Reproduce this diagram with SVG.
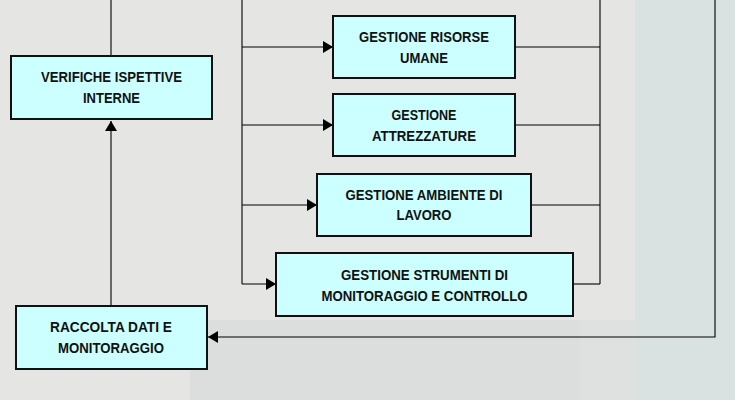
<svg xmlns="http://www.w3.org/2000/svg" width="735" height="400" viewBox="0 0 735 400">
<defs>
<style>
.box{fill:#ccffff;stroke:#111;stroke-width:2}
.t{font-family:"Liberation Sans",Arial,sans-serif;font-weight:bold;font-size:14.8px;fill:#111;text-anchor:middle}
.ln{fill:none;stroke:#000;stroke-width:1.1}
</style>
<marker id="ah" viewBox="0 0 10 12" refX="10" refY="6" markerWidth="10" markerHeight="12" markerUnits="userSpaceOnUse" orient="auto">
<path d="M0,0 L10,6 L0,12 Z" fill="#000"/>
</marker>
</defs>
<rect x="0" y="0" width="735" height="400" fill="#e5e5e3"/>
<rect x="190" y="320" width="445" height="80" fill="#dcdddd"/>
<rect x="580" y="320" width="55" height="80" fill="#dfe0e0"/>
<rect x="635" y="0" width="100" height="400" fill="#d9e1e1"/>
<g id="connectors">
<line class="ln" x1="111" y1="0" x2="111" y2="56"/>
<line class="ln" x1="111" y1="306" x2="111" y2="121" marker-end="url(#ah)"/>
<line class="ln" x1="242" y1="0" x2="242" y2="284"/>
<line class="ln" x1="242" y1="47" x2="333" y2="47" marker-end="url(#ah)"/>
<line class="ln" x1="242" y1="125" x2="333" y2="125" marker-end="url(#ah)"/>
<line class="ln" x1="242" y1="205" x2="317" y2="205" marker-end="url(#ah)"/>
<line class="ln" x1="242" y1="284" x2="276" y2="284" marker-end="url(#ah)"/>
<line class="ln" x1="600" y1="0" x2="600" y2="284"/>
<line class="ln" x1="515" y1="47" x2="600" y2="47"/>
<line class="ln" x1="515" y1="125" x2="600" y2="125"/>
<line class="ln" x1="531" y1="205" x2="600" y2="205"/>
<line class="ln" x1="573" y1="284" x2="600" y2="284"/>
<polyline class="ln" points="715,0 715,337 208,337" marker-end="url(#ah)"/>
</g>
<g id="verifiche">
<rect class="box" x="11" y="56" width="201" height="63"/>
<text class="t" x="111.5" y="82" textLength="141" lengthAdjust="spacingAndGlyphs">VERIFICHE ISPETTIVE</text>
<text class="t" x="111.5" y="103" textLength="57" lengthAdjust="spacingAndGlyphs">INTERNE</text>
</g>
<g id="risorse">
<rect class="box" x="333" y="16" width="182" height="62"/>
<text class="t" x="424" y="42" textLength="130" lengthAdjust="spacingAndGlyphs">GESTIONE RISORSE</text>
<text class="t" x="424" y="63" textLength="48" lengthAdjust="spacingAndGlyphs">UMANE</text>
</g>
<g id="attrezzature">
<rect class="box" x="333" y="94" width="182" height="62"/>
<text class="t" x="424" y="120" textLength="65" lengthAdjust="spacingAndGlyphs">GESTIONE</text>
<text class="t" x="424" y="141" textLength="104" lengthAdjust="spacingAndGlyphs">ATTREZZATURE</text>
</g>
<g id="ambiente">
<rect class="box" x="317" y="174" width="214" height="62"/>
<text class="t" x="424" y="199.5" textLength="157" lengthAdjust="spacingAndGlyphs">GESTIONE AMBIENTE DI</text>
<text class="t" x="424" y="220" textLength="55" lengthAdjust="spacingAndGlyphs">LAVORO</text>
</g>
<g id="strumenti">
<rect class="box" x="276" y="253" width="297" height="63"/>
<text class="t" x="424.5" y="280" textLength="167" lengthAdjust="spacingAndGlyphs">GESTIONE STRUMENTI DI</text>
<text class="t" x="424.5" y="300.5" textLength="206" lengthAdjust="spacingAndGlyphs">MONITORAGGIO E CONTROLLO</text>
</g>
<g id="raccolta">
<rect class="box" x="16" y="306" width="191" height="63"/>
<text class="t" x="111" y="332" textLength="122" lengthAdjust="spacingAndGlyphs">RACCOLTA DATI E</text>
<text class="t" x="111" y="353" textLength="106" lengthAdjust="spacingAndGlyphs">MONITORAGGIO</text>
</g>
</svg>
